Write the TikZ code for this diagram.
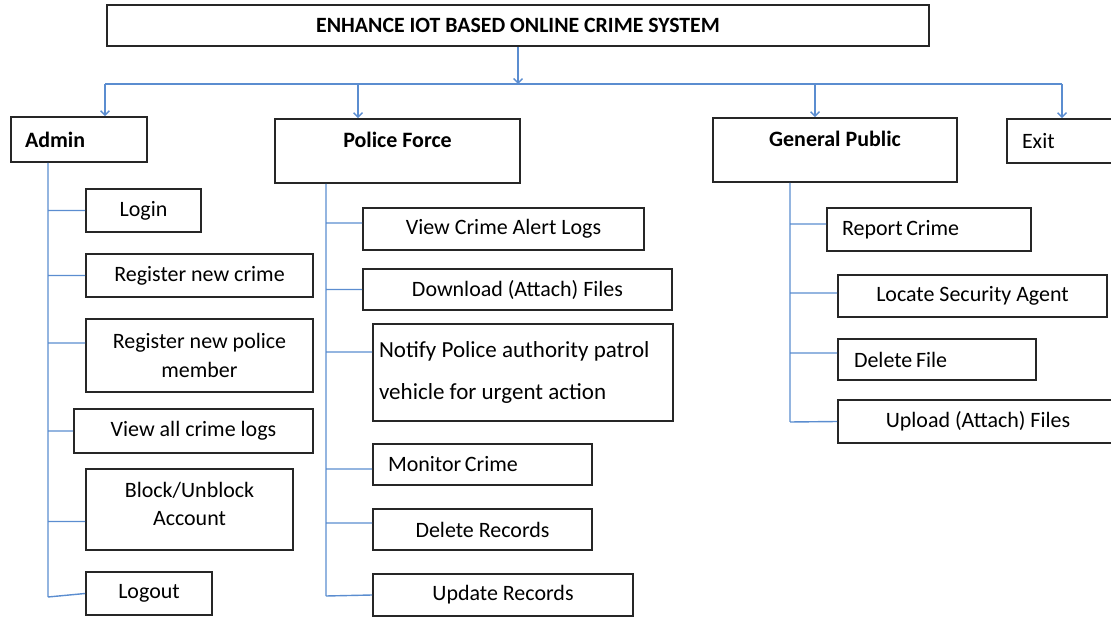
\documentclass[tikz,border=0pt]{standalone}
\usepackage{fontspec}
\setmainfont{Carlito}
\usetikzlibrary{arrows.meta}
\begin{document}
\begin{tikzpicture}[x=0.02cm,y=-0.02cm,
    box/.style={draw=black!85,line width=1.1pt,inner sep=0pt,align=center,font=\fontsize{12.5}{16.4}\selectfont},
    lbox/.style={box,align=flush left,inner xsep=0.3cm},
    link/.style={draw={rgb,255:red,91;green,141;blue,208},line width=0.8pt},
    tip/.style={link,-{Straight Barb[length=2.5pt,width=5pt]}}]
  \useasboundingbox (0,0) rectangle (1111,617);
  \node[box,minimum width=16.46cm,minimum height=0.82cm,font=\fontsize{12.4}{16.4}\selectfont\bfseries] (title) at (518,25.5) {ENHANCE IOT BASED ONLINE CRIME SYSTEM};
  \node[lbox,text width=2.16cm,minimum height=0.9cm,inner xsep=0.28cm,font=\fontsize{12.5}{16.4}\selectfont\bfseries] (admin) at (79,139.5) {Admin};
  \node[box,minimum width=4.9cm,minimum height=1.28cm,font=\fontsize{12.5}{16.4}\selectfont\bfseries] (police) at (397.5,151) {Police Force\\[-4pt]\mbox{}};
  \node[box,minimum width=4.88cm,minimum height=1.28cm,font=\fontsize{12.5}{16.4}\selectfont\bfseries] (general) at (835,150) {General Public\\[-4pt]\mbox{}};
  \node[lbox,text width=1.56cm,minimum height=0.88cm] (exit) at (1061,141) {Exit};
  % admin menu
  \node[box,minimum width=2.3cm,minimum height=0.86cm] (login) at (143.5,210.5) {Login};
  \node[box,minimum width=4.54cm,minimum height=0.86cm] (regcrime) at (199.5,275.5) {Register new crime};
  \node[box,minimum width=4.54cm,minimum height=1.46cm] (regpolice) at (199.5,355.5) {Register new police\\member};
  \node[box,minimum width=4.78cm,minimum height=0.88cm] (viewlogs) at (193.5,431) {View all crime logs};
  \node[box,minimum width=4.14cm,minimum height=1.62cm] (block) at (189.5,509.5) {Block/Unblock\\Account\\[-10pt]\mbox{}};
  \node[box,minimum width=2.52cm,minimum height=0.86cm] (logout) at (149,593.5) {Logout};
  % police menu
  \node[box,minimum width=5.62cm,minimum height=0.84cm] (alert) at (503.5,229) {View Crime Alert Logs};
  \node[box,minimum width=6.18cm,minimum height=0.82cm] (download) at (517.5,289.5) {Download (Attach) Files};
  \node[lbox,text width=5.76cm,minimum height=1.94cm,inner xsep=0.12cm,font=\fontsize{13.1}{24.4}\selectfont] (notify) at (523,372.5) {Notify Police authority patrol\\vehicle for urgent action};
  \node[lbox,text width=3.78cm,minimum height=0.82cm] (monitor) at (482.5,464.5) {Monitor\,Crime};
  \node[box,minimum width=4.38cm,minimum height=0.82cm] (delrec) at (482.5,529.5) {Delete Records};
  \node[box,minimum width=5.2cm,minimum height=0.84cm] (update) at (503,595) {Update Records};
  % public menu
  \node[lbox,text width=3.48cm,minimum height=0.86cm] (report) at (929,229.5) {Report\,Crime};
  \node[box,minimum width=5.38cm,minimum height=0.84cm] (locate) at (972.5,296) {Locate Security Agent};
  \node[lbox,text width=3.32cm,minimum height=0.82cm,inner xsep=0.32cm] (delfile) at (937,359.5) {Delete\,File};
  \node[box,minimum width=5.6cm,minimum height=0.86cm] (upload) at (978,421.5) {Upload (Attach) Files};

  \coordinate (ba) at (105,84);
  \coordinate (bp) at (358,84);
  \coordinate (bg) at (815,84);
  \coordinate (be) at (1062,84);
  \coordinate (at) at (48,597);
  \coordinate (pt) at (326,596);
  \coordinate (gt) at (790,422);

  \draw[tip] (title.south) -- (title.south |- ba);
  \draw[link] (ba) -- (be);
  \draw[tip] (ba) -- (ba |- admin.north);
  \draw[tip] (bp) -- (bp |- police.north);
  \draw[tip] (bg) -- (bg |- general.north);
  \draw[tip] (be) -- (be |- exit.north);

  \draw[link] (admin.south -| at) -- (at)
    (login.west) -| (at)
    (regcrime.west) -| (at)
    ([yshift=0.25cm]regpolice.west) -| (at)
    (viewlogs.west) -| (at)
    ([yshift=-0.24cm]block.west) -| (at)
    (logout.west) -- (at);
  \draw[link] (police.south -| pt) -- (pt)
    ([yshift=0.12cm]alert.west) -| (pt)
    (download.west) -| (pt)
    ([yshift=0.41cm]notify.west) -| (pt)
    ([yshift=-0.09cm]monitor.west) -| (pt)
    ([yshift=0.13cm]delrec.west) -| (pt)
    (update.west) -- (pt);
  \draw[link] (general.south -| gt) -- (gt)
    ([yshift=0.11cm]report.west) -| (gt)
    ([yshift=0.06cm]locate.west) -| (gt)
    ([yshift=0.13cm]delfile.west) -| (gt)
    (upload.west) -- (gt);
\end{tikzpicture}
\end{document}
